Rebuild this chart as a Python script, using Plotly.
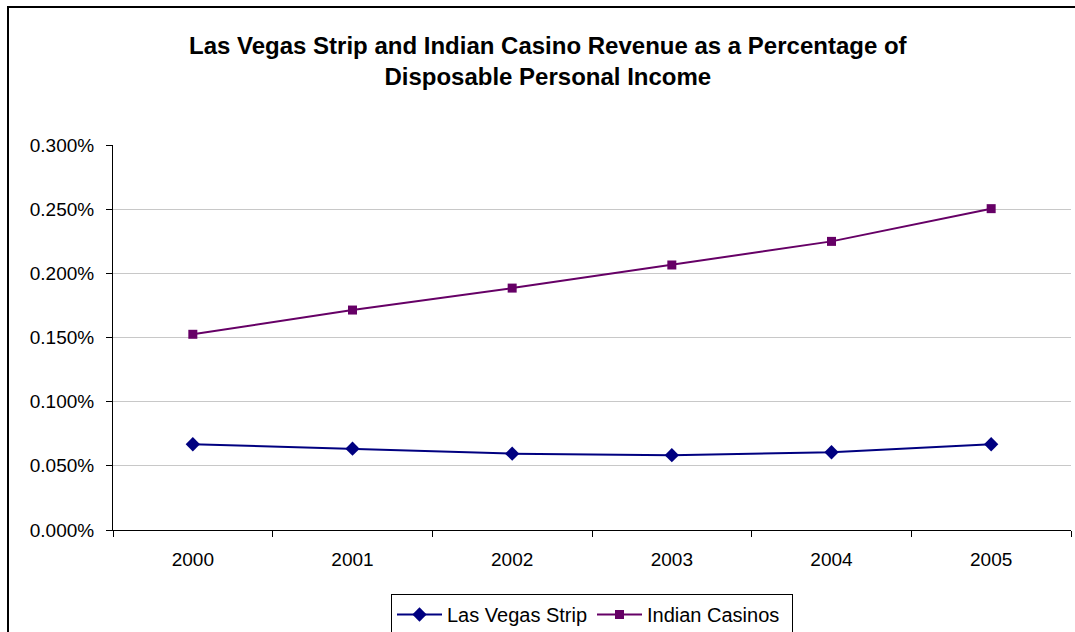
import plotly.graph_objects as go

years = ["2000", "2001", "2002", "2003", "2004", "2005"]
las_vegas_strip = [0.0668, 0.0634, 0.0595, 0.0583, 0.0606, 0.0668]
indian_casinos = [0.1525, 0.1714, 0.1885, 0.2065, 0.2249, 0.2504]
y_ticks = [0.0, 0.05, 0.10, 0.15, 0.20, 0.25, 0.30]
y_tick_labels = ["0.000%", "0.050%", "0.100%", "0.150%", "0.200%", "0.250%", "0.300%"]

FONT = "Liberation Sans, Arial, sans-serif"

fig = go.Figure()
fig.add_trace(go.Scatter(
    x=years, y=las_vegas_strip, name="Las Vegas Strip", mode="lines+markers",
    line=dict(color="#000080", width=2),
    marker=dict(symbol="diamond", size=11, color="#000080"),
))
fig.add_trace(go.Scatter(
    x=years, y=indian_casinos, name="Indian Casinos", mode="lines+markers",
    line=dict(color="#660066", width=2),
    marker=dict(symbol="square", size=9, color="#660066"),
))

W, H = 1075, 632
L, R, T, B = 113, 4, 145, 102
pw = W - L - R
ph = H - T - B

def px_x(x):
    return (x - L) / pw

def px_y(y):
    return (H - B - y) / ph

fig.update_layout(
    width=W, height=H,
    margin=dict(l=L, r=R, t=T, b=B, autoexpand=False),
    paper_bgcolor="white", plot_bgcolor="white",
    font=dict(family=FONT, size=19, color="black"),
    showlegend=True,
    legend=dict(
        orientation="h", x=px_x(391), xanchor="left", y=px_y(594), yanchor="top",
        bordercolor="black", borderwidth=1, font=dict(size=20, family=FONT),
        tracegroupgap=0, itemwidth=45, entrywidth=140, entrywidthmode="pixels",
    ),
    xaxis=dict(
        type="category", range=[-0.5, 5.5], showgrid=False,
        showline=True, linecolor="black", linewidth=1,
        ticks="outside", ticklen=6, tickcolor="black", tickson="boundaries",
        tickfont=dict(size=19, family=FONT), fixedrange=True,
        ticklabelstandoff=12,
    ),
    yaxis=dict(
        range=[0, 0.30], tickvals=y_ticks, ticktext=y_tick_labels,
        showgrid=True, gridcolor="#c8c8c8", gridwidth=1,
        showline=True, linecolor="black", linewidth=1,
        ticks="outside", ticklen=6, tickcolor="black",
        tickfont=dict(size=19, family=FONT), zeroline=False, fixedrange=True,
        ticklabelstandoff=8,
    ),
    shapes=[dict(
        type="rect", xref="paper", yref="paper",
        x0=px_x(8), x1=px_x(1090), y0=px_y(660), y1=px_y(7),
        line=dict(color="black", width=2), fillcolor="rgba(0,0,0,0)", layer="below",
    )],
    annotations=[dict(
        text="<b>Las Vegas Strip and Indian Casino Revenue as a Percentage of<br>Disposable Personal Income</b>",
        xref="paper", yref="paper", x=px_x(548), y=px_y(61), xanchor="center", yanchor="middle",
        showarrow=False, font=dict(size=24, family=FONT, color="black"),
    )],
)

fig.write_html("out.html")
